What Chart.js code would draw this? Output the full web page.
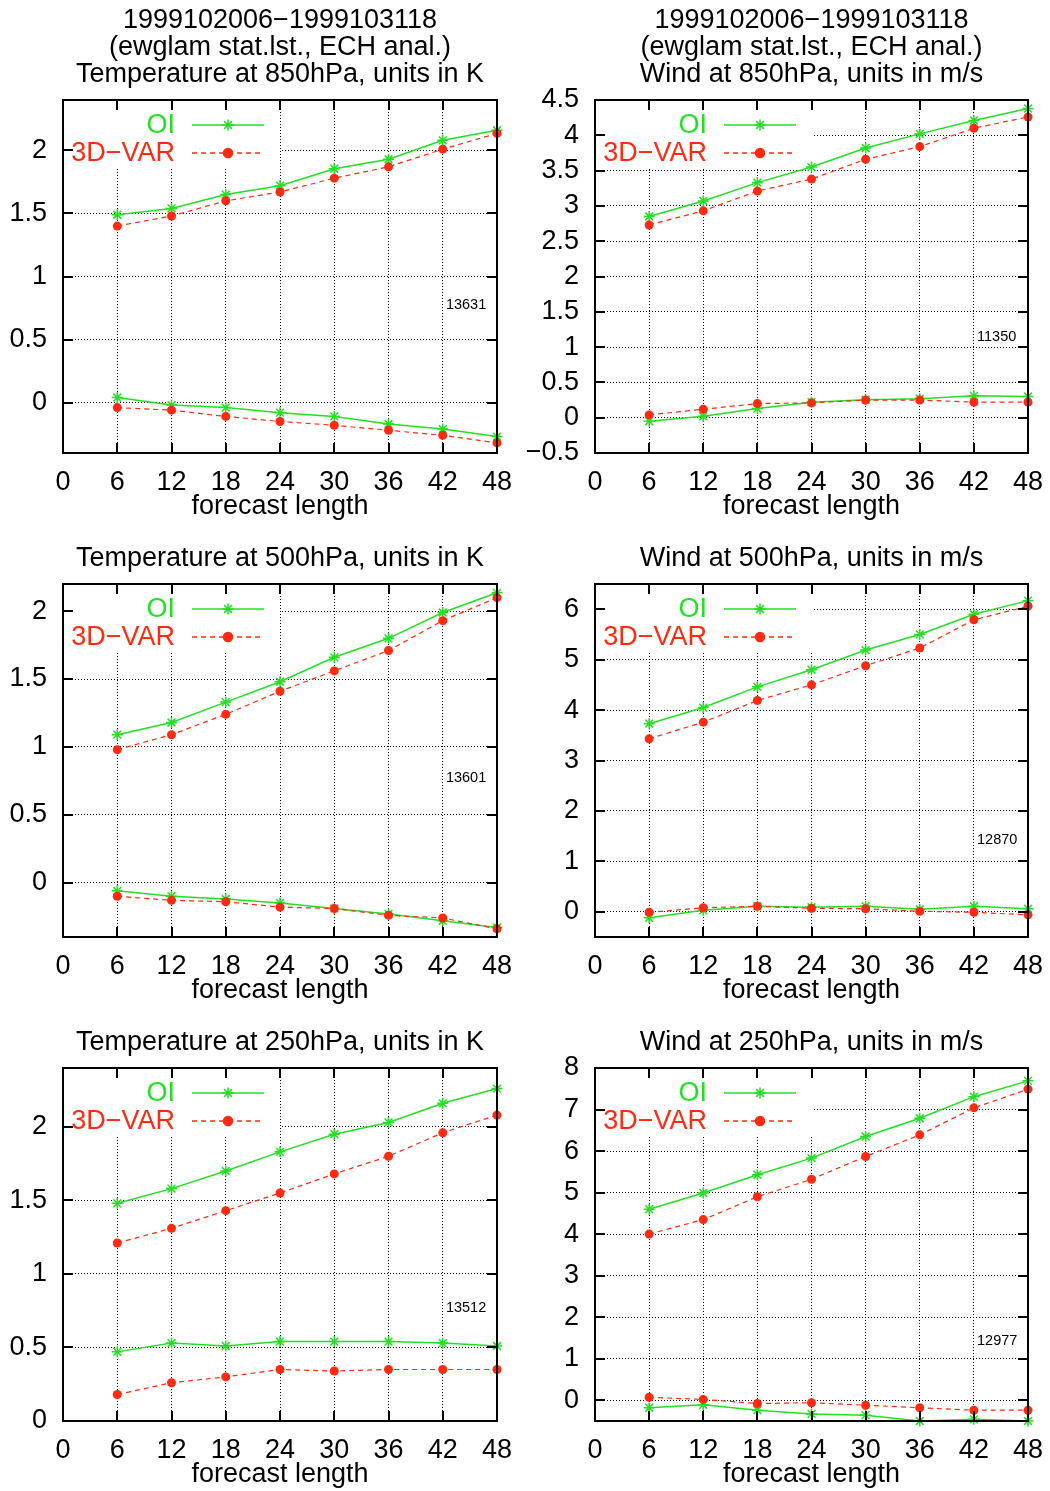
<!DOCTYPE html>
<html>
<head>
<meta charset="utf-8">
<title>OI vs 3D-VAR forecast scores</title>
<script src="https://cdn.jsdelivr.net/npm/chart.js@4.4.1/dist/chart.umd.min.js"></script>
<style>
    html, body { margin: 0; padding: 0; background: #fff; }
    body { width: 1050px; height: 1491px; position: relative; overflow: hidden; }
    canvas { position: absolute; }
</style>
</head>
<body>
<script>
// ---- data ----
const forecastHours = [6, 12, 18, 24, 30, 36, 42, 48];
const xTickValues = [0, 6, 12, 18, 24, 30, 36, 42, 48];
const xTickLabels = ['0', '6', '12', '18', '24', '30', '36', '42', '48'];
const seriesNames = ['OI', '3D\u2212VAR'];

// Temperature 850hPa
const t850OiUpper  = [1.49, 1.54, 1.65, 1.72, 1.855, 1.93, 2.08, 2.16];
const t850VarUpper = [1.40, 1.48, 1.60, 1.67, 1.78, 1.87, 2.01, 2.135];
const t850OiLower  = [0.04, -0.02, -0.04, -0.08, -0.11, -0.17, -0.21, -0.27];
const t850VarLower = [-0.04, -0.06, -0.11, -0.15, -0.18, -0.22, -0.26, -0.32];
const t850YTicks = [0, 0.5, 1, 1.5, 2];
const t850YRange = [-0.4, 2.4];

// Wind 850hPa
const w850OiUpper  = [2.85, 3.07, 3.33, 3.55, 3.82, 4.02, 4.21, 4.38];
const w850VarUpper = [2.73, 2.93, 3.21, 3.38, 3.66, 3.84, 4.10, 4.26];
const w850OiLower  = [-0.05, 0.02, 0.13, 0.22, 0.255, 0.27, 0.31, 0.30];
const w850VarLower = [0.04, 0.12, 0.20, 0.21, 0.25, 0.25, 0.22, 0.22];
const w850YTicks = [-0.5, 0, 0.5, 1, 1.5, 2, 2.5, 3, 3.5, 4, 4.5];
const w850YRange = [-0.5, 4.5];

// Temperature 500hPa
const t500OiUpper  = [1.09, 1.18, 1.33, 1.48, 1.66, 1.80, 1.99, 2.135];
const t500VarUpper = [0.98, 1.09, 1.24, 1.41, 1.56, 1.71, 1.93, 2.10];
const t500OiLower  = [-0.06, -0.10, -0.12, -0.15, -0.19, -0.23, -0.28, -0.33];
const t500VarLower = [-0.10, -0.13, -0.14, -0.18, -0.19, -0.24, -0.26, -0.34];
const t500YTicks = [0, 0.5, 1, 1.5, 2];
const t500YRange = [-0.4, 2.2];

// Wind 500hPa
const w500OiUpper  = [3.73, 4.05, 4.46, 4.80, 5.19, 5.50, 5.90, 6.17];
const w500VarUpper = [3.43, 3.76, 4.19, 4.50, 4.88, 5.23, 5.79, 6.06];
const w500OiLower  = [-0.12, 0.03, 0.11, 0.09, 0.11, 0.05, 0.11, 0.06];
const w500VarLower = [-0.01, 0.08, 0.11, 0.07, 0.06, 0.01, -0.01, -0.06];
const w500YTicks = [0, 1, 2, 3, 4, 5, 6];
const w500YRange = [-0.5, 6.5];

// Temperature 250hPa
const t250OiUpper  = [1.48, 1.58, 1.70, 1.83, 1.95, 2.03, 2.16, 2.26];
const t250VarUpper = [1.21, 1.31, 1.43, 1.55, 1.68, 1.80, 1.96, 2.08];
const t250OiLower  = [0.47, 0.53, 0.51, 0.54, 0.54, 0.54, 0.53, 0.51];
const t250VarLower = [0.18, 0.26, 0.30, 0.35, 0.34, 0.35, 0.35, 0.35];
const t250YTicks = [0, 0.5, 1, 1.5, 2];
const t250YRange = [0, 2.4];

// Wind 250hPa
const w250OiUpper  = [4.60, 4.99, 5.43, 5.83, 6.35, 6.79, 7.31, 7.69];
const w250VarUpper = [4.00, 4.35, 4.90, 5.32, 5.87, 6.39, 7.04, 7.49];
const w250OiLower  = [-0.18, -0.11, -0.24, -0.33, -0.36, -0.50, -0.46, -0.50];
const w250VarLower = [0.07, 0.02, -0.08, -0.06, -0.12, -0.18, -0.24, -0.24];
const w250YTicks = [0, 1, 2, 3, 4, 5, 6, 7, 8];
const w250YRange = [-0.5, 8];

const periodTitle = ['1999102006\u22121999103118', '(ewglam stat.lst., ECH anal.)'];
const panelTitles = [
    'Temperature at 850hPa, units in K', 'Wind at 850hPa, units in m/s',
    'Temperature at 500hPa, units in K', 'Wind at 500hPa, units in m/s',
    'Temperature at 250hPa, units in K', 'Wind at 250hPa, units in m/s'
];
const sampleCounts = ['13631', '11350', '13601', '12870', '13512', '12977'];
const countLabelX = 42.35;
const countLabelY = [0.77, 1.15, 0.77, 1.43, 0.77, 1.42];

// ---- look and layout ----
const FONT = '"Liberation Sans", Arial, Helvetica, sans-serif';
const FONT_SIZE = 27;
const GREEN = '#22e022';
const RED = '#ff2a10';
const plotLefts = [63, 595];
const plotRights = [497, 1028];
const plotTops = [100, 584, 1068];
const plotHeight = 353;

const panels = [
    { oi: [t850OiUpper, t850OiLower], v: [t850VarUpper, t850VarLower], ticks: t850YTicks, range: t850YRange },
    { oi: [w850OiUpper, w850OiLower], v: [w850VarUpper, w850VarLower], ticks: w850YTicks, range: w850YRange },
    { oi: [t500OiUpper, t500OiLower], v: [t500VarUpper, t500VarLower], ticks: t500YTicks, range: t500YRange },
    { oi: [w500OiUpper, w500OiLower], v: [w500VarUpper, w500VarLower], ticks: w500YTicks, range: w500YRange },
    { oi: [t250OiUpper, t250OiLower], v: [t250VarUpper, t250VarLower], ticks: t250YTicks, range: t250YRange },
    { oi: [w250OiUpper, w250OiLower], v: [w250VarUpper, w250VarLower], ticks: w250YTicks, range: w250YRange }
];

function fmt(v) {
    return String(v).replace('-', '\u2212');
}

function toPoints(values) {
    return values.map((v, i) => ({ x: forecastHours[i], y: v }));
}

// gnuplot style frame, inward ticks, key and sample count
const gnuplotFrame = {
    id: 'gnuplotFrame',
    beforeDatasetsDraw(chart) {
        const { ctx, chartArea: a } = chart;
        ctx.save();
        ctx.fillStyle = '#fff';
        ctx.fillRect(a.left + 1, a.top + 1, 216, 67);
        ctx.restore();
    },
    afterDatasetsDraw(chart, args, opts) {
        const { ctx, chartArea: a } = chart;
        const xs = chart.scales.x, ys = chart.scales.y;
        ctx.save();
        ctx.setLineDash([]);
        ctx.strokeStyle = '#000';
        ctx.lineWidth = 2;
        ctx.strokeRect(a.left, a.top, a.right - a.left, a.bottom - a.top);

        ctx.beginPath();
        xs.ticks.forEach(t => {
            const px = Math.round(xs.getPixelForValue(t.value));
            ctx.moveTo(px, a.bottom); ctx.lineTo(px, a.bottom - 10);
            ctx.moveTo(px, a.top); ctx.lineTo(px, a.top + 10);
        });
        ys.ticks.forEach(t => {
            const py = Math.round(ys.getPixelForValue(t.value));
            ctx.moveTo(a.left, py); ctx.lineTo(a.left + 10, py);
            ctx.moveTo(a.right, py); ctx.lineTo(a.right - 10, py);
        });
        ctx.stroke();

        // key
        ctx.font = FONT_SIZE + 'px ' + FONT;
        ctx.textAlign = 'right';
        ctx.textBaseline = 'middle';
        const keyRows = [
            { name: seriesNames[0], color: GREEN, dash: [], style: 'star', r: 5.5 },
            { name: seriesNames[1], color: RED, dash: [5, 4], style: 'circle', r: 4.5 }
        ];
        keyRows.forEach((k, i) => {
            const ky = a.top + 25 + i * 28;
            ctx.fillStyle = k.color;
            ctx.fillText(k.name, a.left + 112, ky + 1);
            ctx.strokeStyle = k.color;
            ctx.lineWidth = 1.5;
            ctx.setLineDash(k.dash);
            ctx.beginPath();
            ctx.moveTo(a.left + 129, ky);
            ctx.lineTo(a.left + 201, ky);
            ctx.stroke();
            ctx.setLineDash([]);
            Chart.helpers.drawPoint(ctx, { pointStyle: k.style, radius: k.r, borderWidth: 1.5, rotation: 0 }, a.left + 165, ky);
        });

        // number of cases
        ctx.font = '14.5px ' + FONT;
        ctx.fillStyle = '#000';
        ctx.textAlign = 'left';
        ctx.fillText(opts.count, xs.getPixelForValue(countLabelX), ys.getPixelForValue(opts.countY));
        ctx.restore();
    }
};

panels.forEach((p, idx) => {
    const col = idx % 2, row = Math.floor(idx / 2);
    const canvasLeft = col * 525;
    const canvasTop = plotTops[row] - 100;
    const canvasHeight = plotHeight + 167;

    const canvas = document.createElement('canvas');
    canvas.width = 525;
    canvas.height = canvasHeight;
    canvas.style.left = canvasLeft + 'px';
    canvas.style.top = canvasTop + 'px';
    document.body.appendChild(canvas);

    const titleLines = row === 0 ? periodTitle.concat([panelTitles[idx]]) : [panelTitles[idx]];
    const titleTop = row === 0 ? 7 : 61;

    new Chart(canvas, {
        type: 'line',
        data: {
            datasets: [
                { label: seriesNames[1], data: toPoints(p.v[0]), borderColor: RED, backgroundColor: RED, borderWidth: 1.2, borderDash: [5, 4], pointStyle: 'circle', pointRadius: 4.5, pointBorderWidth: 0, clip: false },
                { label: seriesNames[1], data: toPoints(p.v[1]), borderColor: RED, backgroundColor: RED, borderWidth: 1.2, borderDash: [5, 4], pointStyle: 'circle', pointRadius: 4.5, pointBorderWidth: 0, clip: false },
                { label: seriesNames[0], data: toPoints(p.oi[0]), borderColor: GREEN, backgroundColor: GREEN, borderWidth: 1.5, pointStyle: 'star', pointRadius: 5.5, pointBorderWidth: 1.5, clip: false },
                { label: seriesNames[0], data: toPoints(p.oi[1]), borderColor: GREEN, backgroundColor: GREEN, borderWidth: 1.5, pointStyle: 'star', pointRadius: 5.5, pointBorderWidth: 1.5, clip: false }
            ]
        },
        options: {
            responsive: false,
            animation: false,
            devicePixelRatio: 1,
            layout: { padding: { left: 0, right: canvasLeft + 525 - plotRights[col], top: 0, bottom: 0 } },
            elements: { line: { tension: 0, fill: false } },
            scales: {
                x: {
                    type: 'linear',
                    min: 0,
                    max: 48,
                    afterBuildTicks: s => { s.ticks = xTickValues.map(v => ({ value: v })); },
                    afterFit: s => { s.height = 67; s.paddingLeft = 0; s.paddingRight = 0; },
                    ticks: {
                        color: '#000',
                        padding: 13,
                        autoSkip: false,
                        maxRotation: 0,
                        font: { family: FONT, size: FONT_SIZE },
                        callback: (v, i) => xTickLabels[i]
                    },
                    grid: { color: '#000', lineWidth: 1, drawTicks: false },
                    border: { display: false, dash: [1, 2] },
                    title: {
                        display: true,
                        text: 'forecast length',
                        color: '#000',
                        font: { family: FONT, size: FONT_SIZE, lineHeight: 1 },
                        padding: 0
                    }
                },
                y: {
                    type: 'linear',
                    min: p.range[0],
                    max: p.range[1],
                    afterBuildTicks: s => { s.ticks = p.ticks.map(v => ({ value: v })); },
                    afterFit: s => { s.width = plotLefts[col] - canvasLeft; s.paddingTop = 0; s.paddingBottom = 0; },
                    ticks: {
                        color: '#000',
                        padding: 16,
                        autoSkip: false,
                        font: { family: FONT, size: FONT_SIZE },
                        callback: (v, i) => fmt(p.ticks[i])
                    },
                    grid: { color: '#000', lineWidth: 1, drawTicks: false },
                    border: { display: false, dash: [1, 2] }
                }
            },
            plugins: {
                legend: { display: false },
                tooltip: { enabled: false },
                title: {
                    display: true,
                    fullSize: false,
                    text: titleLines,
                    color: '#000',
                    font: { family: FONT, size: FONT_SIZE, weight: 'normal', lineHeight: '27px' },
                    padding: { top: titleTop, bottom: 100 - titleTop - 27 * titleLines.length }
                },
                gnuplotFrame: { count: sampleCounts[idx], countY: countLabelY[idx] }
            }
        },
        plugins: [gnuplotFrame]
    });
});
</script>
</body>
</html>
